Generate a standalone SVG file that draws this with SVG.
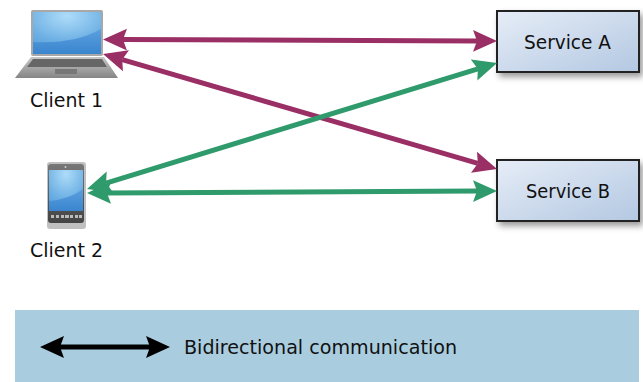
<svg xmlns="http://www.w3.org/2000/svg" width="643" height="382" viewBox="0 0 643 382">
<style>
text{font-family:"DejaVu Sans","Liberation Sans",sans-serif;font-size:19px;fill:#111}
.svc{fill:url(#svcGrad);stroke:#222;stroke-width:2;filter:url(#shadow)}
.c{fill:none;stroke-width:5}
.p{stroke:#9a2f66}.g{stroke:#2f9a6b}.k{stroke:#000}
</style>
<defs>
<linearGradient id="svcGrad" x1="0" y1="0" x2="1" y2="1"><stop offset="0" stop-color="#e6edf7"/><stop offset="1" stop-color="#b3c8e2"/></linearGradient>
<radialGradient id="scr" cx=".5" cy=".1" r=".9"><stop offset="0" stop-color="#aedcf9"/><stop offset=".7" stop-color="#6aaee3"/><stop offset="1" stop-color="#5a9fdc"/></radialGradient>
<linearGradient id="low" x1="0" y1="0" x2="0" y2="1"><stop offset="0" stop-color="#5ba0de"/><stop offset="1" stop-color="#3a85cf"/></linearGradient>
<linearGradient id="base" x1="0" y1="0" x2="0" y2="1"><stop offset="0" stop-color="#c8c8c8"/><stop offset="1" stop-color="#858585"/></linearGradient>
<linearGradient id="body" x1="0" y1="0" x2="0" y2="1"><stop offset="0" stop-color="#777"/><stop offset="1" stop-color="#444"/></linearGradient>
<filter id="shadow" x="-10%" y="-20%" width="125%" height="150%"><feDropShadow dx="3" dy="4" stdDeviation="3" flood-color="#000" flood-opacity=".4"/></filter>
<marker id="hp" markerUnits="userSpaceOnUse" markerWidth="26" markerHeight="24" refX="4" refY="11" orient="auto-start-reverse" viewBox="0 0 26 22"><path d="M24 11L0 0L4 11L0 22Z" fill="#9a2f66"/></marker>
<marker id="hg" markerUnits="userSpaceOnUse" markerWidth="26" markerHeight="24" refX="4" refY="11" orient="auto-start-reverse" viewBox="0 0 26 22"><path d="M24 11L0 0L4 11L0 22Z" fill="#2f9a6b"/></marker>
<marker id="hk" markerUnits="userSpaceOnUse" markerWidth="26" markerHeight="24" refX="4" refY="11" orient="auto-start-reverse" viewBox="0 0 26 22"><path d="M24 11L0 0L4 11L0 22Z" fill="#000"/></marker>
</defs>
<g id="legend"><rect x="15" y="310" width="624" height="72" fill="#a9cddf"/>
<text x="184" y="354" textLength="273" lengthAdjust="spacingAndGlyphs">Bidirectional communication</text></g>
<g id="client1">
<rect x="31" y="10" width="72" height="46" rx="2" fill="#a8a8a8"/>
<rect x="33" y="12" width="68" height="42" fill="url(#scr)"/>
<path d="M33 42Q75 44 101 29V54H33Z" fill="url(#low)"/>
<path d="M31 57H104L118 78H15Z" fill="url(#base)"/>
<path d="M33 59H102L107 67H27Z" fill="#666"/>
<rect x="55" y="69" width="22" height="5" fill="#777"/>
<text x="30" y="107" textLength="73" lengthAdjust="spacingAndGlyphs">Client 1</text></g>
<g id="client2">
<rect x="47" y="162" width="39" height="67" rx="3" fill="#c0c0c0"/>
<rect x="48" y="164" width="36" height="59" rx="3" fill="url(#body)"/>
<rect x="49" y="170" width="34" height="41" fill="url(#scr)"/>
<path d="M49 201Q70 199 83 189V211H49Z" fill="url(#low)"/>
<circle cx="65.500" cy="167" r="1" fill="#ccc"/>
<path d="M51 215h3v3h-3zM56 215h3v3h-3zM61 215h3v3h-3zM65 215h4v3h-4zM70 215h3v3h-3zM75 215h3v3h-3zM79 215h3v3h-3z" fill="#bbb"/>
<text x="30" y="257" textLength="73" lengthAdjust="spacingAndGlyphs">Client 2</text></g>
<g id="serviceA"><rect class="svc" x="497" y="11" width="142" height="61"/><text x="524" y="49" textLength="87" lengthAdjust="spacingAndGlyphs">Service A</text></g>
<g id="serviceB"><rect class="svc" x="497" y="160" width="142" height="61"/><text x="526" y="198" textLength="84" lengthAdjust="spacingAndGlyphs">Service B</text></g>
<g id="connectors">
<line class="c p" x1="123" y1="39.600" x2="477" y2="40.900" marker-start="url(#hp)" marker-end="url(#hp)"/>
<line class="c p" x1="122.200" y1="59.600" x2="477.800" y2="163.400" marker-start="url(#hp)" marker-end="url(#hp)"/>
<line class="c g" x1="106.100" y1="183.100" x2="477.900" y2="68.900" marker-start="url(#hg)" marker-end="url(#hg)"/>
<line class="c g" x1="107" y1="192.900" x2="477" y2="191.100" marker-start="url(#hg)" marker-end="url(#hg)"/>
<line class="c k" x1="60" y1="347" x2="150" y2="347" marker-start="url(#hk)" marker-end="url(#hk)"/>
</g>
</svg>
